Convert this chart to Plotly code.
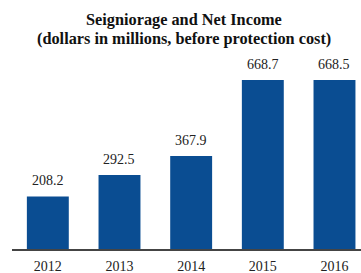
import plotly.graph_objects as go

years = ["2012", "2013", "2014", "2015", "2016"]
values = [208.2, 292.5, 367.9, 668.7, 668.5]
labels = ["208.2", "292.5", "367.9", "668.7", "668.5"]
title_lines = ["Seigniorage and Net Income", "(dollars in millions, before protection cost)"]

fig = go.Figure(go.Bar(x=years, y=values, marker_color="#0a4d92", width=0.585,
                       marker_line_width=0, hoverinfo="skip"))

for i, (v, lab) in enumerate(zip(values, labels)):
    fig.add_annotation(x=i, y=v, text=lab, showarrow=False, yanchor="bottom",
                       yshift=6, font=dict(family="Liberation Serif", size=14, color="#222"))

for ty, line in zip([1.1508, 1.0553], title_lines):
    fig.add_annotation(xref="paper", yref="paper", x=0.4928, y=ty, text="<b>" + line + "</b>",
                       showarrow=False, xanchor="center", yanchor="middle",
                       font=dict(family="Liberation Serif", size=16.3, color="#111"))

fig.update_layout(
    width=361, height=273,
    margin=dict(l=12, r=0, t=50, b=24),
    paper_bgcolor="white", plot_bgcolor="white",
    showlegend=False,
    xaxis=dict(type="category", range=[-0.5, 4.37], showline=True, linecolor="#444",
               linewidth=1.5, ticks="", showgrid=False, ticklabelstandoff=3,
               automargin=False,
               tickfont=dict(family="Liberation Serif", size=14, color="#222")),
    yaxis=dict(range=[0, 787.5], visible=False, showgrid=False),
)

fig.write_html("out.html", config={"displayModeBar": False},
               post_script="document.body.style.margin='0';")
